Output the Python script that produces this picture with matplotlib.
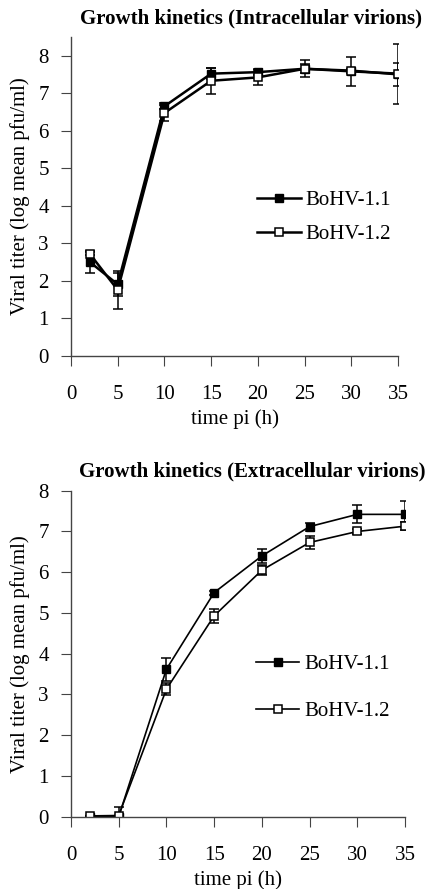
import matplotlib
matplotlib.use("Agg")
import matplotlib.pyplot as plt

plt.rcParams["font.family"] = ["Liberation Serif", "DejaVu Serif"]

# ---- data ----
hours = [2, 5, 10, 15, 20, 25, 30, 35]

# intracellular virions
intra_11 = [2.5, 1.9, 6.65, 7.52, 7.56, 7.65, 7.6, 7.5]
intra_11_err = [0.3, 0.3, 0.08, 0.15, 0.08, 0.12, 0.05, 0.3]
intra_12 = [2.72, 1.75, 6.47, 7.33, 7.42, 7.65, 7.58, 7.52]
intra_12_err = [0.05, 0.5, 0.22, 0.35, 0.2, 0.23, 0.38, 0.8]

# extracellular virions
extra_11 = [0.0, 0.0, 3.62, 5.5, 6.4, 7.12, 7.42, 7.42]
extra_11_err = [0.0, 0.0, 0.28, 0.05, 0.18, 0.1, 0.22, 0.32]
extra_12 = [0.02, 0.03, 3.13, 4.93, 6.05, 6.73, 7.0, 7.13]
extra_12_err = [0.0, 0.22, 0.14, 0.17, 0.12, 0.15, 0.05, 0.1]

fig = plt.figure(figsize=(4.3, 8.89), dpi=100)
ax1 = fig.add_axes([0.165, 0.600, 0.761, 0.3585])
ax2 = fig.add_axes([0.165, 0.0813, 0.777, 0.3667])

FS = 15


def panel(ax, y1, e1, y2, e2, lw, title, title_x, ymax, leg_anchor, lspace):
    ax.errorbar(hours, y1, yerr=e1, color="black", lw=lw, marker="s", ms=6,
                mfc="black", mec="black", capsize=3.8, elinewidth=1.1,
                capthick=1.1, label="BoHV-1.1")
    ax.errorbar(hours, y2, yerr=e2, color="black", lw=lw, marker="s", ms=6,
                mfc="white", mec="black", mew=1.1, capsize=3.8,
                elinewidth=1.1, capthick=1.1, label="BoHV-1.2")
    ax.set_xlim(0, 35)
    ax.set_ylim(0, ymax)
    ax.set_xticks(range(0, 36, 5))
    ax.set_yticks(range(0, 9))
    ax.spines["top"].set_visible(False)
    ax.spines["right"].set_visible(False)
    for s in ("left", "bottom"):
        ax.spines[s].set_color("#444444")
        ax.spines[s].set_linewidth(1.0)
    ax.tick_params(axis="x", direction="out", length=7, pad=14,
                   labelsize=FS, color="#444444")
    ax.tick_params(axis="y", direction="out", length=7, pad=9,
                   labelsize=FS, color="#444444")
    ax.set_xlabel("time pi (h)", fontsize=FS, labelpad=4)
    ax.set_ylabel("Viral titer (log mean pfu/ml)", fontsize=FS, labelpad=6)
    ax.set_title(title, fontsize=FS, fontweight="bold", pad=10, x=title_x)
    h, l = ax.get_legend_handles_labels()
    h = [x[0] for x in h]  # drop error bars from legend handles
    ax.legend(h, l, loc="upper left", bbox_to_anchor=leg_anchor,
              frameon=False, fontsize=FS, handlelength=2.1,
              handletextpad=0.25, labelspacing=lspace, borderpad=0,
              borderaxespad=0)


panel(ax1, intra_11, intra_11_err, intra_12, intra_12_err, 1.8,
      "Growth kinetics (Intracellular virions)", 0.55, 8.5,
      (0.568, 0.518), 0.7)
panel(ax2, extra_11, extra_11_err, extra_12, extra_12_err, 1.2,
      "Growth kinetics (Extracellular virions)", 0.542, 8.0,
      (0.553, 0.497), 1.3)

fig.savefig("out.png", dpi=100)
